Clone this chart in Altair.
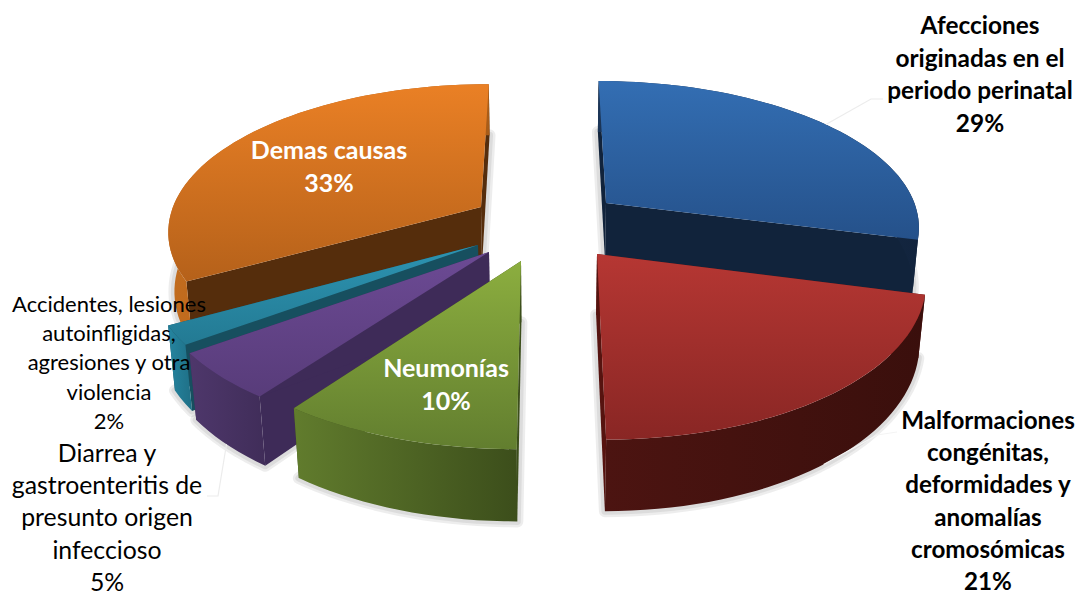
import math
import altair as alt

# ---- chart values ----
names = ["Afecciones originadas en el periodo perinatal",
         "Malformaciones congénitas, deformidades y anomalías cromosómicas",
         "Neumonías",
         "Diarrea y gastroenteritis de presunto origen infeccioso",
         "Accidentes, lesiones autoinfligidas, agresiones y otra violencia",
         "Demas causas"]
shares = [29, 21, 10, 5, 2, 33]

label_lines = [
    ["Afecciones", "originadas en el", "periodo perinatal", "29%"],
    ["Malformaciones", "congénitas,", "deformidades y", "anomalías", "cromosómicas", "21%"],
    ["Neumonías", "10%"],
    ["Diarrea y", "gastroenteritis de", "presunto origen", "infeccioso", "5%"],
    ["Accidentes, lesiones", "autoinfligidas,", "agresiones y otra", "violencia", "2%"],
    ["Demas causas", "33%"],
]

# ---- styling per slice (same order) ----
top_colors = [("#336eb3", "#25518a"), ("#b63733", "#892624"), ("#8cae3f", "#627e2f"),
              ("#6c4a94", "#583c7a"), ("#2d94b2", "#237a93"), ("#ea8025", "#b5611a")]
outer_colors = [("#1b3557", "#12243d"), ("#4c1411", "#3a0f0c"), ("#617c2d", "#3c4e1b"),
                ("#4e376b", "#402d59"), ("#2585a0", "#1f6f86"), ("#c26c1e", "#a85c18")]
wall_colors = ["#11233b", "#56130f", "#3c4e1b", "#3e2b58", "#174f5f", "#552d0c"]
tips = [(606, 203), (597, 254), (521, 261), (489, 252), (478, 245), (481, 207)]
spread = [0.995, 0.995, 1.02, 1.02, 1.0, 0.99]
draw_order = [5, 4, 3, 2, 0, 1]
label_style = [
    dict(x=980, y=27, dy=32.5, bold=True, color="black", size=24.4),
    dict(x=988, y=422, dy=32.2, bold=True, color="black", size=24.2),
    dict(x=446, y=369, dy=33, bold=True, color="white", size=25),
    dict(x=107, y=455, dy=32.2, bold=False, color="black", size=24.8),
    dict(x=109, y=305, dy=29.2, bold=False, color="black", size=22),
    dict(x=329, y=151, dy=33, bold=True, color="white", size=25),
]

# ---- perspective model of the 3-D pie ----
VX, VY = 545.0, -800.0      # vanishing point of the plate
VB = 3900.0                 # vanishing height of the verticals
RX = 0.309                  # radius in plane units
RT_BACK, RT_FRONT = 0.000138, 0.000142
DEPTH = 0.0578              # thickness


def rim(i, deg):
    tip = tips[i]
    th = math.radians(deg)
    c = math.cos(th)
    t = 1 / (tip[1] - VY) + (RT_BACK if c > 0 else RT_FRONT) * c
    X = (tip[0] - VX) / (tip[1] - VY) + RX * spread[i] * math.sin(th)
    return (VX + X / t, VY + 1 / t)


def drop(p):
    h = DEPTH * (p[1] - VY)
    return (p[0] + (VX - p[0]) * h / (VB - p[1]), p[1] + h)


def poly(points):
    pts = [list(p) for p in points]
    pts.append(pts[0])
    return {"type": "Feature", "properties": {}, "geometry": {"type": "Polygon", "coordinates": [pts]}}


def line(points):
    return {"type": "Feature", "properties": {},
            "geometry": {"type": "LineString", "coordinates": [list(p) for p in points]}}


def grad(c0, c1, horizontal=False):
    return alt.LinearGradient(
        gradient="linear",
        stops=[alt.GradientStop(color=c0, offset=0), alt.GradientStop(color=c1, offset=1)],
        x1=0, y1=0, x2=1 if horizontal else 0, y2=0 if horizontal else 1,
    )


def project(chart):
    return chart.project(type="identity", scale=1, translate=[-8, -8])


def shape(feature, fill):
    return project(alt.Chart(alt.Data(values=[feature])).mark_geoshape(fill=fill, strokeWidth=0))


def shadow(feature, width):
    return project(alt.Chart(alt.Data(values=[feature])).mark_geoshape(
        filled=False, stroke="#000000", strokeOpacity=0.07, strokeWidth=width, strokeJoin="round"))


# slice angles come from the shares
starts, acc = [], 0
for s in shares:
    starts.append(acc * 3.6)
    acc += s
ends = [a + s * 3.6 for a, s in zip(starts, shares)]

layers = []
for i in draw_order:
    tip = tips[i]
    a0, a1 = starts[i], ends[i]
    n = max(2, int((a1 - a0) / 2))
    arc = [rim(i, a0 + (a1 - a0) * k / n) for k in range(n + 1)]
    low = [drop(p) for p in arc]
    tip_low = drop(tip)
    # soft shadow under the slice
    base = poly([tip_low] + low)
    layers.append(shadow(base, 12))
    layers.append(shadow(base, 7))
    # radial walls
    layers.append(shape(poly([tip, arc[0], low[0], tip_low]), wall_colors[i]))
    layers.append(shape(poly([tip, arc[-1], low[-1], tip_low]), wall_colors[i]))
    # outer wall
    layers.append(shape(poly(arc + low[::-1]), grad(*outer_colors[i], horizontal=True)))
    # top face
    layers.append(shape(poly([tip] + arc), grad(*top_colors[i])))

# faint leader lines anchored on the slices' middle angles
leaders = [
    ([rim(0, starts[0] + shares[0] * 1.8), (871, 99), (883, 99)], "#ececec", 1.2),
    ([drop(rim(1, starts[1] + shares[1] * 1.8)), (877, 435), (897, 432)], "#f4f4f4", 1.2),
    ([drop(rim(3, starts[3] + shares[3] * 1.8)), (218, 496), (207, 496)], "#ececec", 1.2),
]
for pts, col, w in leaders:
    layers.append(project(
        alt.Chart(alt.Data(values=[line(pts)]))
        .mark_geoshape(filled=False, stroke=col, strokeWidth=w)
    ))

# labels
for lines_, st in zip(label_lines, label_style):
    rows = [{"label": t, "row": k} for k, t in enumerate(lines_)]
    layers.append(
        alt.Chart(alt.Data(values=rows))
        .mark_text(font="Lato", fontSize=st["size"], fontWeight="bold" if st["bold"] else "normal",
                   color=st["color"], align="center", baseline="middle")
        .transform_calculate(px=f"{st['x'] - 8}", py=f"{st['y'] - 8} + datum.row * {st['dy']}")
        .encode(
            x=alt.X("px:Q", scale=alt.Scale(domain=[0, 1067]), axis=None),
            y=alt.Y("py:Q", scale=alt.Scale(domain=[578, 0]), axis=None),
            text="label:N",
        )
    )

chart = (
    alt.layer(*layers)
    .properties(width=1067, height=578, padding=0, background="white")
    .configure_view(stroke=None)
)
chart.save("out.html", embed_options={"renderer": "svg", "actions": False})
